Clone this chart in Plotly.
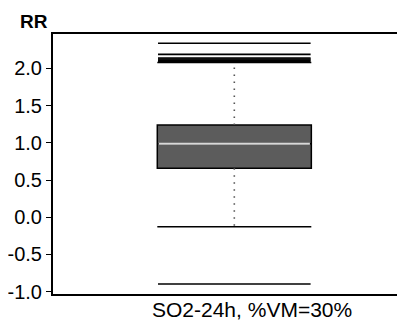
import plotly.graph_objects as go

# ---- data ----
category = ["SO2-24h, %VM=30%"]
q1 = [0.658]
median = [0.988]
q3 = [1.239]
lower_whisker = [-0.128]
upper_whisker = [2.078]
outliers = [2.336, 2.188, 2.138, 2.125, 2.11, 2.095, -0.897]
y_tickvals = [-1.0, -0.5, 0.0, 0.5, 1.0, 1.5, 2.0]
y_ticktext = ["-1.0", "-0.5", "0.0", "0.5", "1.0", "1.5", "2.0"]

FONT = "Liberation Sans, Arial, Helvetica, sans-serif"
BOX_PX = 154  # box width in pixels (1 data unit on x)
LINE_SIZE = BOX_PX / 1.4  # plotly 'line-ew' symbol length = 1.4 * size
xc = 0

fig = go.Figure()

# box body
fig.add_trace(go.Box(
    x=[xc], q1=q1, median=median, q3=q3,
    lowerfence=q1, upperfence=q3,
    width=1, fillcolor="#5c5c5c",
    line=dict(color="black", width=1.5),
    boxpoints=False, hoverinfo="skip", showlegend=False,
))

# dotted whiskers
for a, b in [(q3[0], upper_whisker[0]), (q1[0], lower_whisker[0])]:
    fig.add_trace(go.Scatter(
        x=[xc, xc], y=[a, b], mode="lines",
        line=dict(color="#555555", width=1.6, dash="1.5px,5.5px"),
        hoverinfo="skip", showlegend=False,
    ))

# whisker caps
fig.add_trace(go.Scatter(
    x=[xc, xc], y=[lower_whisker[0], upper_whisker[0]], mode="markers",
    marker=dict(symbol="line-ew", size=LINE_SIZE,
                line=dict(color="black", width=1.5)),
    hoverinfo="skip", showlegend=False,
))

# outliers as horizontal lines
fig.add_trace(go.Scatter(
    x=[xc] * len(outliers), y=outliers, mode="markers",
    marker=dict(symbol="line-ew", size=LINE_SIZE - 1,
                line=dict(color="black", width=1.6)),
    hoverinfo="skip", showlegend=False,
))

# median line (light)
fig.add_trace(go.Scatter(
    x=[xc], y=median, mode="markers",
    marker=dict(symbol="line-ew", size=LINE_SIZE - 2,
                line=dict(color="#d8d8d8", width=2)),
    hoverinfo="skip", showlegend=False,
))

# the page body adds an 8px margin, so the figure is sized to fit the window
fig.update_layout(
    width=397, height=313,
    margin=dict(l=45, r=0, t=26, b=27),
    paper_bgcolor="white", plot_bgcolor="white",
    font=dict(family=FONT, color="black"),
    showlegend=False,
    xaxis=dict(
        range=[-1.177, 1.108],
        showgrid=False, zeroline=False,
        showline=True, linecolor="black", linewidth=2, mirror=True,
        ticks="", showticklabels=False,
    ),
    yaxis=dict(
        range=[-1.031, 2.461],
        showgrid=False, zeroline=False,
        showline=True, linecolor="black", linewidth=2, mirror=False,
        ticks="outside", ticklen=5, tickwidth=1.2, tickcolor="black",
        tickvals=y_tickvals, ticktext=y_ticktext,
        tickfont=dict(size=20, family=FONT),
    ),
    annotations=[
        dict(
            text="<b>RR</b>", xref="paper", yref="paper",
            x=-0.0994, y=1.0, xanchor="left", yanchor="bottom",
            showarrow=False, font=dict(size=19, family=FONT, color="black"),
        ),
        dict(
            text=category[0], xref="x", yref="paper",
            x=0.118, y=0, xanchor="center", yanchor="top", yshift=-2,
            showarrow=False, font=dict(size=21, family=FONT, color="black"),
        ),
    ],
)

fig.write_html("out.html")
